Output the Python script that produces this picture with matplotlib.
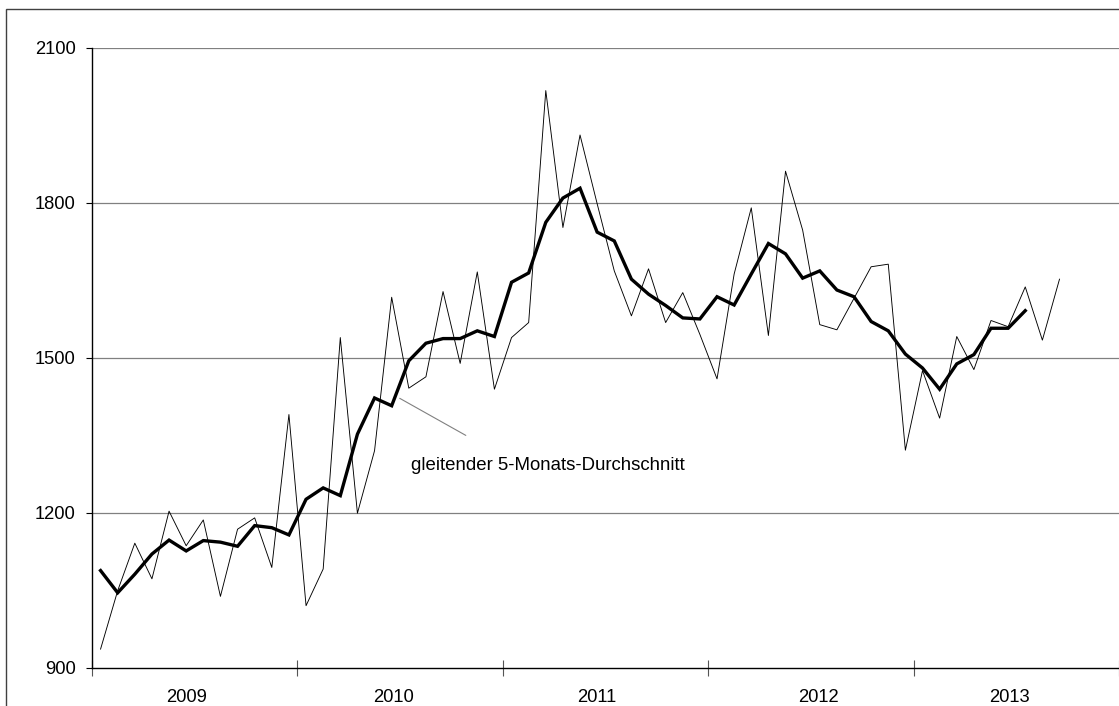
import matplotlib
matplotlib.use("Agg")
import matplotlib.pyplot as plt
from matplotlib.patches import Rectangle
from matplotlib.ticker import FixedLocator, NullFormatter

plt.rcParams['font.family'] = ['Liberation Sans', 'DejaVu Sans']

years = ["2009", "2010", "2011", "2012", "2013"]

# monthly values, Jan 2009 - Sep 2013
monthly = [936, 1049, 1141, 1072, 1203, 1136, 1186, 1038, 1168, 1190, 1094, 1390,
           1020, 1091, 1539, 1199, 1320, 1617, 1441, 1463, 1628, 1489, 1666, 1439,
           1539, 1568, 2017, 1752, 1931, 1798, 1668, 1581, 1672, 1568, 1626, 1545,
           1459, 1662, 1790, 1543, 1861, 1747, 1564, 1554, 1615, 1676, 1681, 1321,
           1475, 1383, 1541, 1477, 1572, 1560, 1637, 1534, 1652]

# gleitender 5-Monats-Durchschnitt, Jan 2009 - Jul 2013
moving_avg = [1088, 1045, 1081, 1120, 1147, 1126, 1146, 1143, 1135, 1175, 1171, 1157,
              1226, 1248, 1233, 1352, 1422, 1407, 1494, 1528, 1537, 1537, 1552, 1541,
              1646, 1664, 1762, 1809, 1828, 1743, 1726, 1652, 1623, 1601, 1577, 1575,
              1618, 1602, 1662, 1721, 1701, 1654, 1668, 1631, 1618, 1570, 1552, 1507,
              1480, 1439, 1488, 1506, 1557, 1557, 1591]

y_ticks = [900, 1200, 1500, 1800, 2100]

W, H = 1119, 706
fig = plt.figure(figsize=(W / 100, H / 100), dpi=100)
ax = fig.add_axes([92 / W, (H - 667.7) / H, (1128 - 92) / W, (667.7 - 47.7) / H])

x_raw = [i + 0.5 for i in range(len(monthly))]
x_ma = [i + 0.5 for i in range(len(moving_avg))]

for yv in y_ticks[1:]:
    ax.axhline(yv, color='#808080', lw=0.9, zorder=1)

ax.plot(x_raw, monthly, color='black', lw=0.65, zorder=3)
ax.plot(x_ma, moving_avg, color='black', lw=2.4, solid_joinstyle='miter', zorder=4)

ax.set_xlim(0, 60.5)
ax.set_ylim(900, 2100)

ax.spines['top'].set_visible(False)
ax.spines['right'].set_visible(False)
ax.spines['left'].set_linewidth(1.0)
ax.spines['bottom'].set_linewidth(1.0)

ax.set_yticks(y_ticks)
ax.set_yticklabels([str(v) for v in y_ticks])
ax.tick_params(axis='y', direction='out', length=4.3, width=0.8, pad=7.5, labelsize=13.2)

# year boundaries as major ticks, year names as minor ticks in between
ax.xaxis.set_major_locator(FixedLocator([0, 12, 24, 36, 48, 60]))
ax.xaxis.set_major_formatter(NullFormatter())
ax.xaxis.set_minor_locator(FixedLocator([5.5, 17.6, 29.5, 42.4, 53.6]))
ax.set_xticklabels(years, minor=True)
ax.tick_params(axis='x', which='major', direction='inout', length=12, width=0.8, color='#555555')
ax.tick_params(axis='x', which='minor', length=0, pad=15, labelsize=13.2)

ax.annotate("", xy=(17.83, 1424), xytext=(21.97, 1347),
            arrowprops=dict(arrowstyle='-', color='#808080', lw=0.8))
ax.text(18.6, 1292, "gleitender 5-Monats-Durchschnitt", fontsize=13.4,
        ha='left', va='center')

fig.patches.append(Rectangle((6 / W, -0.1), 1.2, 1.1 - 9.3 / H, transform=fig.transFigure,
                             fill=False, edgecolor='#404040', lw=1.0))

fig.savefig("out.png", dpi=100)
